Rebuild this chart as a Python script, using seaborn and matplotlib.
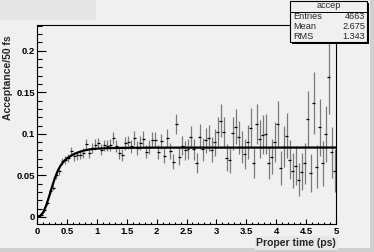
import numpy as np
import pandas as pd
import matplotlib
matplotlib.use("Agg")
import matplotlib.pyplot as plt
import matplotlib.patches as mpatches
from matplotlib.ticker import MultipleLocator, FuncFormatter
import seaborn as sns

# 100 bins of 50 fs, 0..5 ps
bin_width = 0.05
acceptance = [
    0.001, 0.002, 0.008, 0.0165, 0.031, 0.035, 0.050, 0.055, 0.067, 0.069,
    0.071, 0.079, 0.073, 0.074, 0.075, 0.077, 0.088, 0.077, 0.083, 0.087,
    0.089, 0.081, 0.086, 0.0855, 0.087, 0.0948, 0.0855, 0.0767, 0.0747, 0.0888,
    0.0896, 0.0848, 0.0948, 0.0828, 0.0888, 0.094, 0.0787, 0.084, 0.093, 0.093,
    0.0783, 0.0908, 0.0735, 0.0948, 0.0795, 0.0667, 0.112, 0.0727, 0.0855, 0.080,
    0.0819, 0.096, 0.0815, 0.065, 0.0967, 0.0815, 0.092, 0.095, 0.0807, 0.0899,
    0.1028, 0.116, 0.102, 0.0715, 0.0687, 0.1008, 0.1088, 0.096, 0.0847, 0.0759,
    0.0899, 0.1076, 0.065, 0.1116, 0.0936, 0.0988, 0.0999, 0.0647, 0.0727, 0.0907,
    0.1116, 0.0587, 0.0847, 0.098, 0.0687, 0.0558, 0.0619, 0.0446, 0.0546, 0.0647,
    0.118, 0.0526, 0.1369, 0.0607, 0.108, 0.0647, 0.0999, 0.169, 0.078, 0.0558,
]
errors = [
    0.001, 0.001, 0.0015, 0.002, 0.0028, 0.003, 0.0038, 0.004, 0.0044, 0.0047,
    0.0048, 0.0053, 0.0051, 0.0052, 0.0055, 0.0055, 0.0059, 0.0055, 0.006, 0.0062,
    0.0066, 0.0063, 0.0067, 0.0067, 0.0071, 0.0074, 0.0073, 0.0069, 0.0068, 0.0077,
    0.0078, 0.0079, 0.0083, 0.0081, 0.0083, 0.0089, 0.0081, 0.0087, 0.0092, 0.0095,
    0.0087, 0.0096, 0.0089, 0.0105, 0.0099, 0.0093, 0.0124, 0.0103, 0.0114, 0.0113,
    0.0117, 0.0133, 0.0125, 0.0117, 0.0146, 0.014, 0.0152, 0.016, 0.015, 0.0162,
    0.0177, 0.0194, 0.0185, 0.0158, 0.0157, 0.0197, 0.0208, 0.0198, 0.0192, 0.0185,
    0.0204, 0.023, 0.0181, 0.024, 0.0226, 0.0236, 0.024, 0.0196, 0.0213, 0.0241,
    0.0277, 0.0206, 0.025, 0.0275, 0.0233, 0.0215, 0.0229, 0.0198, 0.0222, 0.0246,
    0.0337, 0.0229, 0.0374, 0.0253, 0.0342, 0.0269, 0.0338, 0.0448, 0.0307, 0.0262,
]

# fit curve
fit_t = [0, 0.05, 0.1, 0.15, 0.2, 0.25, 0.3, 0.35, 0.4, 0.45, 0.5,
         0.6, 0.7, 0.8, 0.9, 1.0, 1.2, 1.5, 2.0, 5.0]
fit_v = [0, 0.0012, 0.005, 0.013, 0.024, 0.036, 0.047, 0.056, 0.0625, 0.067, 0.0705,
         0.075, 0.078, 0.0802, 0.0815, 0.0822, 0.0829, 0.0832, 0.0834, 0.0835]

stats_title = "accep"
stats_rows = [("Entries", "4663"), ("Mean", "2.675"), ("RMS", "1.343")]

centers = [bin_width * (i + 0.5) for i in range(len(acceptance))]
df = pd.DataFrame({"t": centers, "acc": acceptance, "err": errors})
fit = pd.DataFrame({"t": fit_t, "v": fit_v})

sns.set_theme(style="ticks")
plt.rcParams['font.family'] = ['Liberation Sans', 'DejaVu Sans']

bg = '#f0f0f0'
W, H = 374, 252
fig = plt.figure(figsize=(W / 100, H / 100), dpi=100, facecolor=bg)
ax = fig.add_axes([37 / W, 1 - 224 / H, 299 / W, 199 / H])
ax.set_facecolor(bg)

# canvas decorations (ROOT style)
fig.patches.append(mpatches.Rectangle((0, 1 - 20 / H), 96 / W, 20 / H, transform=fig.transFigure,
                                      facecolor='#e6e6e6', edgecolor='none', zorder=0))
fig.patches.append(mpatches.Rectangle((370 / W, 0), 4 / W, 1, transform=fig.transFigure,
                                      facecolor='#cfcfcf', edgecolor='none', zorder=0))
fig.patches.append(mpatches.Rectangle((0, 0), 1, 4 / H, transform=fig.transFigure,
                                      facecolor='#cfcfcf', edgecolor='none', zorder=0))

# error bars: gray vertical, black horizontal (bin width)
ax.errorbar(df["t"], df["acc"], yerr=df["err"], fmt='none', ecolor='#7a7a7a', elinewidth=0.9,
            capsize=0, zorder=2)
ax.errorbar(df["t"], df["acc"], xerr=bin_width / 2, fmt='none', ecolor='black', elinewidth=0.9,
            capsize=0, zorder=3)

sns.lineplot(data=fit, x="t", y="v", color='black', linewidth=1.6, ax=ax, zorder=4)

ax.set_xlim(0, 5)
ax.set_ylim(-0.0085, 0.231)
ax.set_xlabel("")
ax.set_ylabel("")

ax.xaxis.set_major_locator(MultipleLocator(0.5))
ax.xaxis.set_minor_locator(MultipleLocator(0.1))
ax.yaxis.set_major_locator(MultipleLocator(0.05))
ax.yaxis.set_minor_locator(MultipleLocator(0.01))
fmt = FuncFormatter(lambda v, p: "%g" % round(v, 4))
ax.xaxis.set_major_formatter(fmt)
ax.yaxis.set_major_formatter(fmt)

ax.tick_params(axis='both', which='both', direction='in', top=False, right=False,
               colors='black', width=0.8)
ax.tick_params(axis='x', which='major', length=3.3, pad=2.5)
ax.tick_params(axis='x', which='minor', length=1.7)
ax.tick_params(axis='y', which='major', length=6.5, pad=1.5)
ax.tick_params(axis='y', which='minor', length=3.6)
for lab in ax.get_xticklabels() + ax.get_yticklabels():
    lab.set_fontsize(6.8)
    lab.set_fontweight('bold')

for s in ax.spines.values():
    s.set_color('black')
    s.set_linewidth(0.8)

fig.text(8 / W, 1 - 35 / H, "Acceptance/50 fs", rotation=90, ha='center', va='top',
         fontsize=7.5, fontweight='bold')
fig.text(336 / W, 1 - 243 / H, "Proper time (ps)", ha='right', va='center',
         fontsize=7.5, fontweight='bold',
         bbox=dict(boxstyle='square,pad=0.15', facecolor='#e8e8e8', edgecolor='none'))

# stats box
bx0, bx1, by0, by1 = 290, 367, 1, 42
fig.patches.append(mpatches.Rectangle(((bx0 + 2) / W, 1 - (by1 + 2) / H), (bx1 - bx0) / W,
                                      (by1 - by0) / H, transform=fig.transFigure,
                                      facecolor='black', edgecolor='none', zorder=5))
fig.patches.append(mpatches.Rectangle((bx0 / W, 1 - by1 / H), (bx1 - bx0) / W, (by1 - by0) / H,
                                      transform=fig.transFigure, facecolor=bg, edgecolor='black',
                                      linewidth=0.8, zorder=6))
fig.lines.append(plt.Line2D([bx0 / W, bx1 / W], [1 - 11.5 / H, 1 - 11.5 / H],
                            transform=fig.transFigure, color='black', linewidth=0.7, zorder=7))
fig.text((bx0 + bx1) / 2 / W, 1 - 5.8 / H, stats_title, ha='center', va='center',
         fontsize=6.6, fontweight='medium', zorder=8)
for i, (k, v) in enumerate(stats_rows):
    y = 1 - (16.8 + 10 * i) / H
    fig.text(293 / W, y, k, ha='left', va='center', fontsize=6.6, fontweight='medium', zorder=8)
    fig.text(365 / W, y, v, ha='right', va='center', fontsize=6.6, fontweight='medium', zorder=8)

fig.savefig("out.png", dpi=100, facecolor=bg)
